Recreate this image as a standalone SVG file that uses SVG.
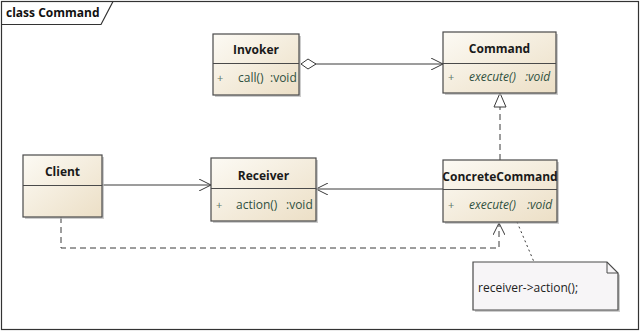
<svg xmlns="http://www.w3.org/2000/svg" width="640" height="332" viewBox="0 0 640 332">
<style>
.box{fill:url(#g);stroke:#4a4a4a;stroke-width:1.2}
.sh{fill:#b8b8b8;opacity:0.7}
.div{stroke:#4a4a4a;stroke-width:1}
.name{font-family:"Open Sans","Noto Sans",sans-serif;font-size:12px;font-weight:bold;fill:#1a1a1a;text-anchor:middle}
.attr{font-family:"Open Sans","Noto Sans",sans-serif;font-size:12px;fill:#2f5040}
.it{font-style:italic}
.plus{font-family:"Open Sans","Noto Sans",sans-serif;font-size:11px;fill:#5d7a6a}
.ln{fill:none;stroke:#3a3a3a;stroke-width:1}
.dash{stroke-dasharray:6,4}
.dot{stroke-dasharray:2,3}
</style>
<defs>
<linearGradient id="g" x1="0" y1="0" x2="1" y2="1">
<stop offset="0" stop-color="#fcfaf4"/>
<stop offset="1" stop-color="#ecdfc6"/>
</linearGradient>
<marker id="open" markerWidth="14" markerHeight="12" refX="12" refY="6" orient="auto" markerUnits="userSpaceOnUse">
<path d="M0,0 L12,6 L0,12" fill="none" stroke="#3a3a3a" stroke-width="1"/>
</marker>
<marker id="tri" markerWidth="16" markerHeight="14" refX="15" refY="7" orient="auto" markerUnits="userSpaceOnUse">
<path d="M1,1 L15,7 L1,13 Z" fill="#fff" stroke="#3a3a3a" stroke-width="1"/>
</marker>
<marker id="dia" markerWidth="18" markerHeight="12" refX="1" refY="6" orient="auto" markerUnits="userSpaceOnUse">
<path d="M1,6 L8,1 L16,6 L8,11 Z" fill="#fff" stroke="#3a3a3a" stroke-width="1"/>
</marker>
</defs>
<rect x="0" y="0" width="640" height="332" fill="#fff"/>
<g id="frame">
<rect x="1.5" y="1.5" width="637" height="328" fill="none" stroke="#333" stroke-width="1.2"/>
<path d="M1.5,24.5 L101,24.5 L113,1.5" fill="none" stroke="#333" stroke-width="1.2"/>
<text x="6" y="17" font-family="Open Sans,Noto Sans,sans-serif" font-size="12" font-weight="bold" fill="#111">class Command</text>
</g>
<g id="connectors">
<path class="ln" d="M301,64 L443,64" marker-start="url(#dia)" marker-end="url(#open)"/>
<path class="ln dash" d="M500,160 L500,93" marker-end="url(#tri)"/>
<path class="ln" d="M102,185 L211,185" marker-end="url(#open)"/>
<path class="ln" d="M443,189 L316,189" marker-end="url(#open)"/>
<path class="ln dash" d="M61,217 L61,248 L499,248 L499,223" marker-end="url(#open)"/>
<path class="ln dot" d="M517,222 L534,262"/>
</g>
<g id="Invoker">
<rect class="sh" x="215" y="36" width="86" height="61"/>
<rect class="box" x="213" y="34" width="86" height="61"/>
<line class="div" x1="213" y1="63.5" x2="299" y2="63.5"/>
<text class="name" x="256" y="54">Invoker</text>
<text class="plus" x="217" y="82">+</text>
<text class="attr" x="238" y="82">call()</text>
<text class="attr" x="270" y="82">:void</text>
</g>
<g id="Command">
<rect class="sh" x="445" y="34" width="113" height="61"/>
<rect class="box" x="443" y="32" width="113" height="61"/>
<line class="div" x1="443" y1="63.5" x2="556" y2="63.5"/>
<text class="name" x="499.5" y="53">Command</text>
<text class="plus" x="448" y="81">+</text>
<text class="attr it" x="469" y="81">execute()</text>
<text class="attr it" x="525" y="81">:void</text>
</g>
<g id="Client">
<rect class="sh" x="25" y="157" width="79" height="62"/>
<rect class="box" x="23" y="155" width="79" height="62"/>
<line class="div" x1="23" y1="185.5" x2="102" y2="185.5"/>
<text class="name" x="62.5" y="176">Client</text>
</g>
<g id="Receiver">
<rect class="sh" x="213" y="160" width="105" height="63"/>
<rect class="box" x="211" y="158" width="105" height="63"/>
<line class="div" x1="211" y1="188.5" x2="316" y2="188.5"/>
<text class="name" x="263.5" y="180">Receiver</text>
<text class="plus" x="216" y="209">+</text>
<text class="attr" x="236" y="209">action()</text>
<text class="attr" x="286" y="209">:void</text>
</g>
<g id="ConcreteCommand">
<rect class="sh" x="445" y="162" width="114" height="62"/>
<rect class="box" x="443" y="160" width="114" height="62"/>
<line class="div" x1="443" y1="189.5" x2="557" y2="189.5"/>
<text class="name" x="500" y="181">ConcreteCommand</text>
<text class="plus" x="448" y="209">+</text>
<text class="attr it" x="469" y="209">execute()</text>
<text class="attr it" x="527" y="209">:void</text>
</g>
<g id="note">
<path d="M475,264 L609,264 L620,275 L620,312 L475,312 Z" fill="#b8b8b8" opacity="0.7"/>
<path d="M473,262 L607,262 L618,273 L618,310 L473,310 Z" fill="#f7f5f7" stroke="#4a4a4a" stroke-width="1.2"/>
<path d="M607,262 L607,273 L618,273" fill="none" stroke="#4a4a4a" stroke-width="1"/>
<text x="478" y="292" font-family="Open Sans,Noto Sans,sans-serif" font-size="12" fill="#222">receiver-&gt;action();</text>
</g>
</svg>
